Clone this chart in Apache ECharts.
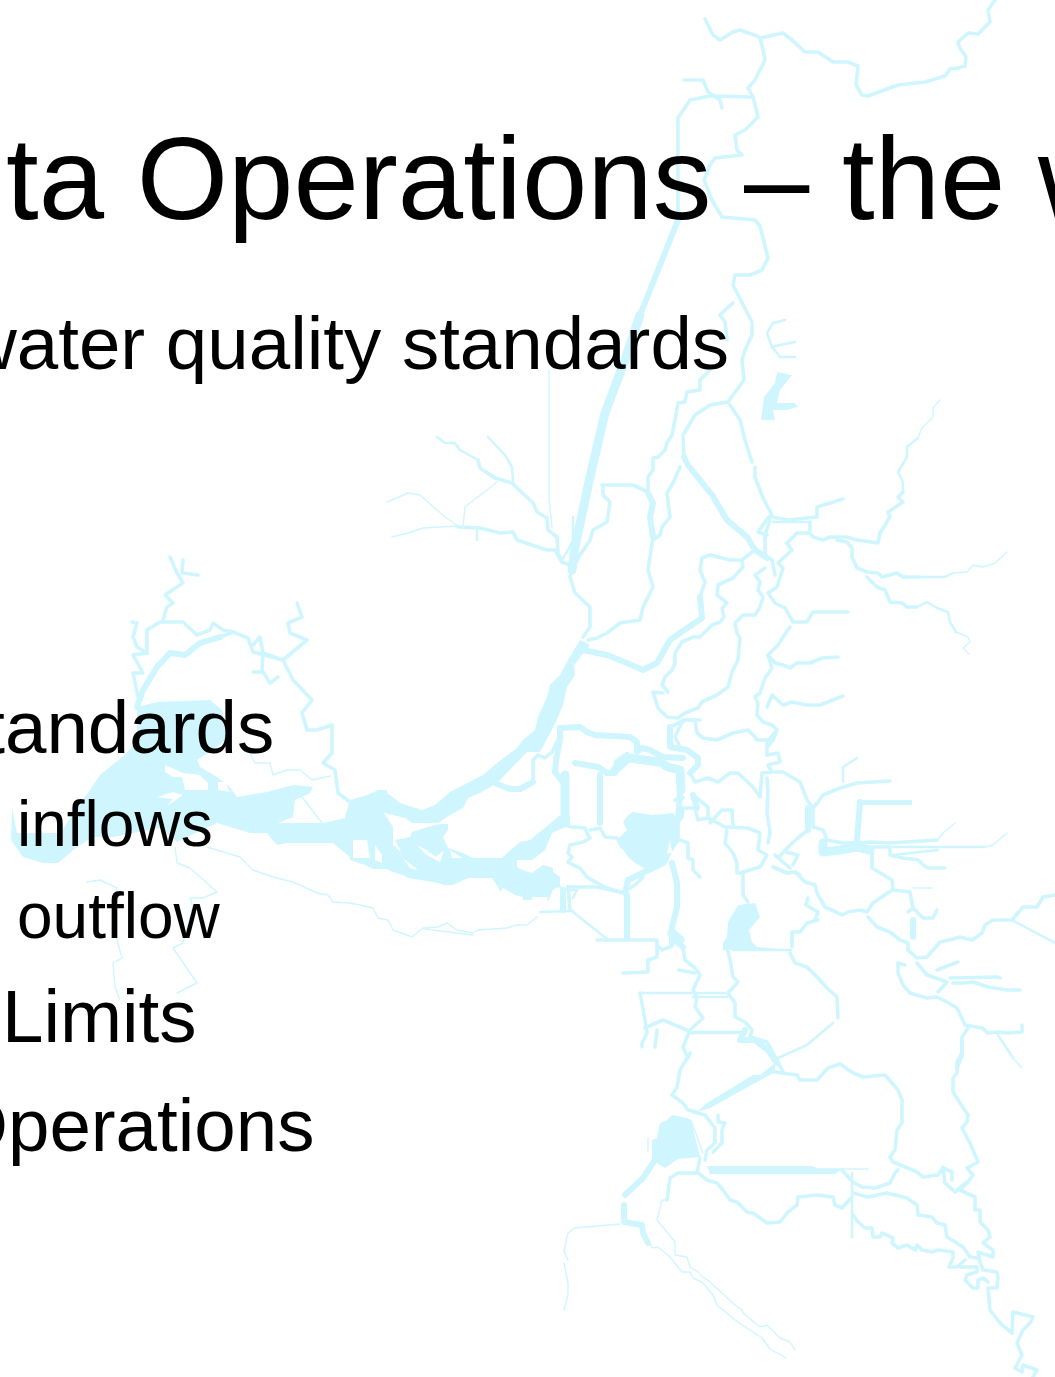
<!DOCTYPE html>
<html><head><meta charset="utf-8">
<style>html,body{margin:0;padding:0;background:#fff}#c{width:1055px;height:1377px}</style>
<script src="https://cdn.jsdelivr.net/npm/echarts@6/dist/echarts.min.js"></script>
</head><body><div id="c"></div>
<script>
const titleText = 'ta Operations \u2013 the w';
const subtitleText = 'water quality standards';
const bulletTexts = ['standards', 'inflows', 'outflow', 'Limits', 'Operations'];

const waterBodies = [
 // Suisun Bay
 [[137,707],[157,702],[210,700],[222,710],[227,740],[197,760],[200,767],[217,777],[230,787],[237,797],[267,792],[293,785],[313,787],[310,793],[295,800],[293,817],[278,823],[323,823],[350,817],[350,857],[333,843],[287,843],[277,845],[267,833],[250,833],[217,823],[177,842],[160,828],[113,837],[93,837],[77,847],[58,863],[43,863],[23,857],[11,840],[12,808],[17,833],[60,833],[90,790],[100,775],[127,753],[137,740]],
 // Middle reach and lower channel
 [[345,817],[350,800],[367,795],[378,790],[387,790],[388,797],[393,800],[384,813],[393,827],[393,845],[407,857],[423,867],[437,870],[443,868],[450,860],[473,858],[500,858],[517,858],[517,867],[522,870],[532,873],[543,865],[553,868],[553,872],[560,877],[560,885],[563,890],[558,887],[553,890],[548,902],[547,897],[532,897],[532,900],[523,900],[523,897],[515,895],[503,888],[500,892],[498,887],[492,878],[468,878],[453,885],[445,885],[433,882],[408,878],[403,875],[393,872],[387,869],[373,869],[365,865],[350,860]],
 // Honker Bay
 [[395,840],[410,837],[412,832],[427,827],[440,824],[448,824],[448,830],[443,837],[448,848],[463,853],[473,858],[460,870],[430,874],[405,860]],
 // Upper Sacramento limb
 [[580,640],[568,660],[560,675],[550,685],[547,697],[538,717],[535,730],[523,740],[517,748],[497,763],[483,775],[450,792],[435,805],[422,810],[400,803],[390,795],[384,793],[384,813],[405,818],[412,823],[430,823],[438,823],[450,815],[463,808],[468,798],[480,793],[497,783],[505,775],[527,752],[540,752],[556,722],[563,705],[567,687],[575,675],[574,665],[590,645]],
 // Sherman reach
 [[560,815],[540,832],[530,840],[520,842],[505,855],[500,860],[517,860],[532,860],[545,850],[552,833],[570,825],[570,815]],
 // Franks Tract
 [[628,815],[633,812],[652,815],[673,813],[678,820],[678,833],[680,840],[672,852],[667,863],[650,873],[642,867],[635,863],[628,857],[622,848],[617,840],[627,830],[623,822]],
 // Mildred Island
 [[738,905],[728,922],[727,937],[723,943],[723,950],[791,950],[757,947],[752,942],[749,930],[760,917],[755,903]],
 // Clifton Court
 [[667,1120],[660,1123],[657,1138],[652,1140],[652,1160],[665,1168],[678,1159],[700,1157],[691,1120],[687,1118],[672,1115]],
 // Old River bar
 [[707,1166],[813,1166],[818,1169],[842,1169],[835,1174],[710,1174]],
 // Northern lake
 [[777,372],[792,375],[780,390],[777,403],[795,403],[798,407],[787,410],[773,410],[775,420],[761,420],[764,397],[775,383]],
 // Lower diagonal
 [[775,1063],[760,1075],[753,1075],[707,1103],[697,1112],[710,1108],[775,1072]],
 // Wide channel
 [[862,800],[912,800],[912,805],[862,805]]
];

const islands = [
 [[165,765],[183,773],[200,775],[208,783],[208,790],[185,790],[182,777],[173,777],[165,772]],
 [[218,782],[225,782],[230,792],[218,790]],
 [[157,797],[173,792],[183,795],[167,806],[173,799]],
 [[353,840],[367,840],[370,858],[353,858]],
 [[375,845],[382,855],[382,863],[375,860]],
 [[402,857],[410,868],[418,870],[405,860]],
 [[417,845],[427,855],[440,862],[444,850],[436,857],[426,850]],
 [[450,850],[462,858],[452,858]],
 [[503,777],[527,753],[530,763],[525,775],[507,778]],
 [[670,840],[672,853],[667,853]]
];

const hairChannels = [
 [[549,370],[549,497],[552,527]],
 [[497,482],[465,507],[463,527]],
 [[387,502],[408,493],[420,495],[445,517],[458,526]],
 [[392,537],[408,533],[423,528],[458,526]],
 [[250,753],[255,763],[270,763],[273,775],[287,770],[300,770],[312,780],[330,776]],
 [[302,797],[322,823]],
 [[87,882],[100,880],[117,888],[117,940],[122,958],[113,963],[115,987],[120,1000]],
 [[175,847],[177,863],[190,868],[217,892],[203,898],[190,898],[193,907],[183,943],[173,948],[197,983],[177,993]],
 [[207,847],[240,857],[253,870],[273,877],[293,882],[317,893],[328,895],[333,902],[350,903],[373,908],[378,918],[388,920],[393,930],[412,937],[423,928],[438,927],[447,923],[457,930],[473,933],[478,930],[507,928],[517,925],[527,925],[537,917]],
 [[425,929],[473,935]],
 [[620,1224],[575,1228],[568,1233],[564,1251],[568,1260]],
 [[564,1263],[568,1283],[568,1295],[564,1310]],
 [[667,1200],[662,1200],[657,1220],[675,1242],[675,1255],[687,1257],[690,1267],[700,1273]],
 [[700,1275],[710,1282],[735,1305],[742,1310],[743,1313],[760,1327],[767,1325],[780,1338],[790,1342],[795,1350]],
 [[648,1243],[653,1248],[658,1247],[670,1257],[682,1272],[690,1272],[693,1278],[702,1282],[713,1295],[717,1305],[735,1320],[762,1338],[770,1349],[786,1358]],
 [[933,408],[940,400]],
 [[918,438],[922,428],[933,417],[933,408]],
 [[953,573],[967,572],[973,565],[983,567],[995,563],[1007,552]],
 [[956,632],[968,637],[970,642],[963,648],[969,654]],
 [[985,847],[993,845],[1007,833]],
 [[937,840],[943,833],[955,823]],
 [[913,888],[932,888]],
 [[818,1169],[868,1169]],
 [[691,1120],[703,1153]],
 [[648,1138],[648,1152]],
 [[1013,1058],[1022,1068]]
];

const fineChannels = [
 [[898,472],[907,457],[907,447],[918,438]],
 [[903,492],[903,482],[898,472]],
 [[920,577],[930,577],[945,577],[953,573]],
 [[917,607],[927,602],[937,608],[948,612],[950,622],[956,632]],
 [[488,437],[505,455],[512,467],[513,482]],
 [[437,437],[445,443],[455,443],[460,450],[478,460]],
 [[852,1173],[852,1237]],
 [[893,847],[985,847]],
 [[893,855],[938,850]],
 [[998,1035],[1013,1058]],
 [[962,1057],[957,1070]],
 [[540,912],[573,911]],
 [[573,912],[607,939]],
 [[640,993],[725,993]],
 [[693,997],[727,997]],
 [[690,1033],[743,1033]],
 [[693,1032],[745,1032]],
 [[733,950],[791,950]],
 [[1012,920],[1055,943]],
 [[843,782],[843,767],[857,758]],
 [[778,1058],[807,1045],[833,1023]],
 [[773,522],[810,522]],
 [[573,517],[573,540],[568,550],[562,560]],
 [[795,342],[780,345],[772,347],[767,333],[773,323],[785,320]],
 [[780,357],[795,357]],
 [[772,347],[780,357]],
 [[563,890],[577,890],[573,898]],
 [[477,528],[477,540]],
 [[773,740],[768,747]]
];

const thinChannels = [
 [[705,19],[713,35],[720,40],[733,32],[740,30],[757,36],[760,38],[783,33],[792,40],[805,52],[818,52],[833,62],[848,62],[858,66],[856,85],[862,95],[868,96],[898,85],[925,82],[945,76],[950,69],[958,68],[965,66],[966,57],[960,48],[958,42],[968,33],[978,34],[990,22],[988,10],[995,0]],
 [[760,38],[763,50],[765,60],[755,80],[748,88],[753,97],[710,96],[690,100],[678,118],[678,220]],
 [[684,80],[703,80],[708,92],[720,100],[722,108]],
 [[753,97],[758,117],[745,130],[735,135],[737,150],[742,155],[715,158],[710,165],[704,180],[712,200],[722,217],[755,220],[760,226],[768,258],[762,270],[750,275],[735,275],[733,285],[752,322],[752,335],[745,350],[742,360],[744,380],[728,402],[710,405],[695,415],[683,435],[684,457]],
 [[730,405],[740,420],[745,440],[752,462]],
 [[755,467],[755,477],[763,498],[772,515],[768,518],[758,532],[767,535]],
 [[733,303],[725,310],[720,315],[725,322],[727,340]],
 [[710,370],[700,380],[700,390],[687,392],[685,402],[678,403],[675,420],[672,435],[667,443],[665,450],[658,457],[653,458],[653,470],[648,477],[648,493],[653,503]],
 [[602,485],[633,485],[648,492]],
 [[603,485],[603,495],[610,502],[607,522],[593,530],[590,540],[580,555],[573,567]],
 [[680,467],[673,483],[667,493],[670,517],[662,527],[660,535],[653,540]],
 [[653,537],[648,570],[653,587],[643,607],[640,620],[620,623],[607,633],[597,638],[588,640]],
 [[572,570],[570,577],[575,593],[590,607],[590,627],[583,637]],
 [[478,460],[480,468],[495,478],[512,483],[533,503],[537,512],[547,518],[548,530],[557,537],[558,553],[562,562],[570,565]],
 [[458,527],[480,528],[500,533],[513,532],[517,540],[547,550],[555,550],[562,562]],
 [[702,558],[710,555],[730,560],[742,560],[752,552]],
 [[702,558],[700,570],[705,582],[700,597]],
 [[742,560],[743,567],[733,578],[718,585],[717,595],[727,603],[722,608],[724,617],[720,622],[712,625],[700,637],[693,637],[682,642],[675,653],[675,663],[672,670],[665,677],[662,685],[668,692]],
 [[663,693],[653,692],[658,708],[667,717],[678,718],[685,713],[698,708],[702,702],[717,695],[728,687],[732,672],[738,660],[740,638],[737,633],[735,623],[743,615],[755,615],[760,607],[763,597],[758,590],[760,582],[755,575],[765,568]],
 [[772,517],[788,520],[817,517],[817,507],[843,499]],
 [[810,522],[810,533],[797,533],[787,543],[792,550],[778,563],[783,568],[777,587],[768,593],[775,603],[785,608],[793,622],[807,622],[813,612],[848,612]],
 [[770,520],[765,535],[765,555],[772,560],[775,575]],
 [[810,533],[813,537],[823,540],[830,537],[847,537],[857,540],[878,543],[880,533],[890,517],[888,512],[903,502],[898,497],[903,492]],
 [[837,540],[847,542],[852,548],[852,557],[857,568],[867,572],[878,573],[882,577],[897,573],[903,577],[920,577]],
 [[867,577],[877,587],[885,590],[890,602],[902,603],[907,607],[917,607]],
 [[790,627],[783,637],[778,645],[768,655],[772,668],[765,678],[760,693],[755,697],[758,703],[757,715],[763,722],[772,725],[777,730],[773,740]],
 [[768,655],[775,663],[783,665],[790,668],[797,663],[810,663],[822,658],[838,657]],
 [[767,707],[772,695],[783,705],[792,702],[807,705],[820,705],[843,696]],
 [[672,747],[670,727],[685,720],[695,720],[697,733],[703,738],[717,740],[733,733],[748,730],[755,737],[757,740],[773,740]],
 [[690,773],[695,782],[708,778],[718,782],[730,773],[738,773],[753,787],[760,797],[762,773],[772,772],[768,765],[780,762],[778,753],[767,755],[767,743],[775,732]],
 [[767,778],[768,790],[767,813],[770,832],[768,843]],
 [[775,772],[783,772],[800,782],[807,800],[813,808],[818,802],[823,795],[840,788],[857,783],[890,781]],
 [[808,808],[808,830],[798,838],[790,845],[778,858]],
 [[813,810],[813,827],[823,830],[827,840],[843,843],[850,843],[872,842],[890,843],[937,840]],
 [[873,847],[890,847],[890,855],[903,858],[918,860],[927,868],[945,868]],
 [[872,852],[872,868],[892,880],[893,890],[910,892],[912,890],[913,908],[908,912]],
 [[913,908],[923,918],[933,918],[937,910]],
 [[892,890],[873,903],[867,912],[860,910],[848,912],[842,915],[825,907],[817,893],[815,885],[805,882],[795,872],[787,873],[773,867]],
 [[868,917],[877,927],[890,932],[900,940],[908,943],[908,950]],
 [[818,920],[807,923],[800,932],[792,932],[792,947]],
 [[808,898],[806,905],[818,912],[815,920]],
 [[908,950],[917,958],[927,957],[940,942],[953,939],[960,937],[972,940],[982,933],[985,925],[993,920],[1012,920],[1023,907],[1037,907],[1043,897],[1055,895]],
 [[905,965],[898,963],[898,973],[903,985],[910,993],[927,998],[937,997],[947,1002],[957,1008],[965,1025],[982,1028],[988,1033],[998,1032],[1007,1033],[1022,1032],[1022,1025]],
 [[968,1028],[962,1037],[962,1057]],
 [[917,963],[927,975],[947,982],[938,992]],
 [[937,970],[958,962]],
 [[950,978],[997,977],[1000,978]],
 [[953,983],[963,983],[973,982],[988,987],[1007,990],[1020,990]],
 [[725,827],[748,828],[760,833],[758,850],[767,855],[760,867],[743,872],[743,895],[748,902]],
 [[727,830],[725,843],[733,853],[737,863],[737,873],[743,873]],
 [[710,823],[722,810],[732,810],[733,825]],
 [[683,808],[682,817],[678,822],[678,837]],
 [[790,953],[795,963],[807,967],[817,977],[827,988],[837,997],[838,1018]],
 [[683,947],[685,960],[695,968],[700,975],[693,990],[697,997],[695,1007],[703,1018],[690,1030],[683,1047],[688,1058],[690,1053],[680,1070],[677,1087],[672,1095],[683,1103],[688,1110],[697,1112]],
 [[727,947],[730,960],[733,977],[738,982],[728,993],[735,1003],[735,1017],[745,1022],[752,1030],[750,1037],[767,1042],[777,1060],[783,1072]],
 [[640,993],[645,1020],[647,1033],[642,1043],[642,1047]],
 [[645,1028],[663,1020],[687,1030]],
 [[657,1030],[655,1047]],
 [[679,970],[695,973]],
 [[775,1072],[797,1075],[800,1080],[817,1080],[828,1068],[840,1064],[853,1073],[863,1077],[885,1075],[898,1090],[902,1100],[902,1123],[897,1130],[895,1150],[890,1157],[893,1162],[917,1172],[923,1177],[938,1175],[943,1168],[952,1172],[952,1180]],
 [[693,1112],[705,1115],[715,1128],[715,1143],[707,1150],[705,1160]],
 [[718,1115],[718,1122],[725,1123],[722,1130],[722,1143],[713,1152]],
 [[700,1158],[697,1173],[678,1173],[670,1178],[667,1200]],
 [[697,1172],[707,1180],[717,1183],[723,1190],[730,1200],[737,1202],[747,1212],[753,1213],[767,1223],[780,1222],[788,1212],[797,1205],[798,1197],[817,1195],[833,1197],[835,1205],[842,1208],[852,1197]],
 [[842,1170],[853,1182],[862,1187],[875,1188],[890,1183],[895,1173],[898,1170]],
 [[853,1193],[868,1197],[887,1193],[907,1198],[917,1205],[918,1215],[932,1217],[937,1223],[945,1225],[947,1237],[963,1247],[970,1257],[977,1258]],
 [[853,1215],[858,1222],[865,1228],[872,1228],[873,1237],[880,1237],[882,1233],[893,1238],[892,1243],[898,1248],[907,1245],[915,1250],[917,1245],[922,1250],[932,1252],[938,1250],[953,1252],[953,1258],[949,1267],[957,1267],[965,1260]],
 [[960,1267],[977,1267],[977,1272],[967,1275],[965,1280],[973,1288],[978,1288],[978,1280],[983,1278],[988,1282]],
 [[962,1040],[962,1053],[957,1062],[957,1073],[953,1078],[953,1092],[960,1103],[968,1115],[967,1122],[962,1128],[970,1143],[978,1162],[967,1168],[973,1175],[968,1182],[960,1190],[975,1197],[975,1210],[980,1210],[980,1222],[988,1230],[990,1237],[983,1243],[993,1250],[993,1257],[978,1252],[980,1262],[983,1270],[997,1272],[998,1278],[997,1288],[988,1288],[990,1310],[1000,1323],[1012,1333],[1013,1312],[1033,1317],[1030,1323],[1023,1330],[1017,1343],[1022,1355],[1015,1368],[1022,1372],[1023,1365],[1037,1370],[1033,1377]],
 [[943,1167],[945,1183],[955,1192],[967,1182]],
 [[220,637],[233,632],[248,638],[253,652],[283,660],[293,680],[312,700],[302,713],[307,730],[317,730],[332,725],[332,753],[323,763],[335,770],[338,793],[350,802]],
 [[138,697],[133,673],[143,673],[133,655],[147,653],[137,647],[133,637],[137,623],[132,622]],
 [[147,653],[147,630],[160,622],[183,622],[197,635],[210,630],[213,623],[223,630],[233,632]],
 [[163,620],[167,607],[173,603],[165,595],[183,583],[177,573],[170,557]],
 [[183,560],[182,573],[198,575]],
 [[283,660],[307,640],[290,633],[288,623],[302,617],[297,603]],
 [[283,660],[263,653],[260,637],[253,645]],
 [[263,653],[262,670],[270,683],[278,677]],
 [[253,672],[262,672]],
 [[533,782],[533,760],[538,755],[545,758],[552,752],[558,740]],
 [[553,830],[563,825],[573,827],[585,828],[587,833],[590,838],[583,842],[570,845],[568,853],[572,857],[568,862],[573,865],[580,868],[587,877],[597,883],[607,888],[620,892],[625,893]],
 [[590,830],[600,828],[605,837],[617,838],[622,847]],
 [[643,877],[635,885],[623,892]],
 [[568,887],[597,887],[620,892]],
 [[568,887],[570,910]],
 [[597,940],[657,940],[657,957],[648,960],[648,972],[623,973]],
 [[657,945],[662,950],[672,946]],
 [[680,840],[688,843],[688,858],[693,860],[693,870],[700,877]],
 [[683,798],[675,800]],
 [[700,720],[683,720],[675,737],[680,747]],
 [[693,795],[708,807],[708,818],[698,820],[695,808],[683,808]],
 [[773,867],[787,873],[795,872],[800,875]],
 [[775,855],[790,868]],
 [[793,865],[798,855],[786,852]],
 [[708,818],[725,827]]
];

const midChannels = [
 [[137,707],[143,690],[157,667],[170,653],[185,655],[200,643],[220,637]],
 [[678,220],[660,265],[640,315]],
 [[727,520],[747,537],[755,550]],
 [[684,457],[688,465],[712,495],[727,520]],
 [[648,493],[653,503],[650,517],[653,537]],
 [[700,597],[702,618],[680,633],[670,640],[657,663],[643,670],[627,663],[607,655],[583,650]],
 [[755,550],[767,558]],
 [[533,782],[520,789],[510,789],[497,784]],
 [[560,728],[560,740],[556,760],[555,772],[565,785]],
 [[560,728],[580,727],[587,732],[595,735],[630,737],[637,742],[637,752],[642,748],[650,750],[663,757],[683,758]],
 [[600,775],[600,823]],
 [[627,895],[627,938]],
 [[625,893],[628,880],[663,863]],
 [[563,890],[563,910]],
 [[575,763],[598,767],[607,773],[615,773],[617,762],[627,755]],
 [[670,727],[670,747],[687,750],[698,758],[698,765],[690,773]],
 [[672,863],[677,883],[677,907],[672,927],[672,943]],
 [[672,938],[683,947]],
 [[693,795],[697,808]],
 [[808,808],[808,830]],
 [[655,1160],[643,1178],[625,1195]],
 [[624,1205],[624,1222],[642,1225],[643,1233],[648,1243]],
 [[740,1040],[755,1040],[768,1050],[777,1063]],
 [[740,1040],[745,1030]],
 [[913,920],[913,937]],
 [[678,820],[680,793]],
 [[860,802],[857,840]]
];

const wideChannels = [
 [[640,315],[625,360],[605,413],[590,477],[575,547],[572,570]],
 [[565,775],[565,815]],
 [[615,770],[628,758],[660,762],[668,767],[680,770],[681,790]],
 [[823,843],[823,852],[840,850],[857,847],[870,850]],
 [[672,933],[680,940]]
];

const series = [];
function polySeries(poly, color, z){
  series.push({
    type:'custom', coordinateSystem:'cartesian2d', silent:true, animation:false, z:z,
    encode:{x:0,y:1}, data:poly,
    renderItem:function(params,api){
      if(params.dataIndex!==0) return null;
      return {type:'polygon',shape:{points:poly.map(function(p){return api.coord(p);})},style:{fill:color}};
    }
  });
}
function lineSeries(path,width){
  series.push({
    type:'line', data:path, symbol:'none', silent:true, animation:false, z:2,
    lineStyle:{color:'#CFF6FF',width:width,join:'round',cap:'round'}
  });
}
waterBodies.forEach(function(p){polySeries(p,'#CFF6FF',2);});
hairChannels.forEach(function(p){lineSeries(p,1.4);});
fineChannels.forEach(function(p){lineSeries(p,2.5);});
thinChannels.forEach(function(p){lineSeries(p,3.6);});
midChannels.forEach(function(p){lineSeries(p,6);});
wideChannels.forEach(function(p){lineSeries(p,9);});
islands.forEach(function(p){polySeries(p,'#ffffff',3);});

function label(text,x,y,size){
  return {type:'text',z:100,x:x,y:y,silent:true,
    style:{text:text,fill:'#000',font:size+'px "Liberation Sans", Arial, sans-serif',textAlign:'left',textVerticalAlign:'top'}};
}
const chart = echarts.init(document.getElementById('c'),null,{renderer:'canvas'});
chart.setOption({
  animation:false, backgroundColor:'#fff',
  grid:{left:0,right:0,top:0,bottom:0},
  xAxis:{type:'value',min:0,max:1055,show:false},
  yAxis:{type:'value',min:0,max:1377,inverse:true,show:false},
  series:series,
  graphic:[
    label(titleText,6,128,117.5),
    label(subtitleText,-37,311,74.5),
    label(bulletTexts[0],-53,695,74.5),
    label(bulletTexts[1],17,796,64),
    label(bulletTexts[2],17,888,64),
    label(bulletTexts[3],2,984,74.5),
    label(bulletTexts[4],-50,1093,74.5)
  ]
});
</script></body></html>
